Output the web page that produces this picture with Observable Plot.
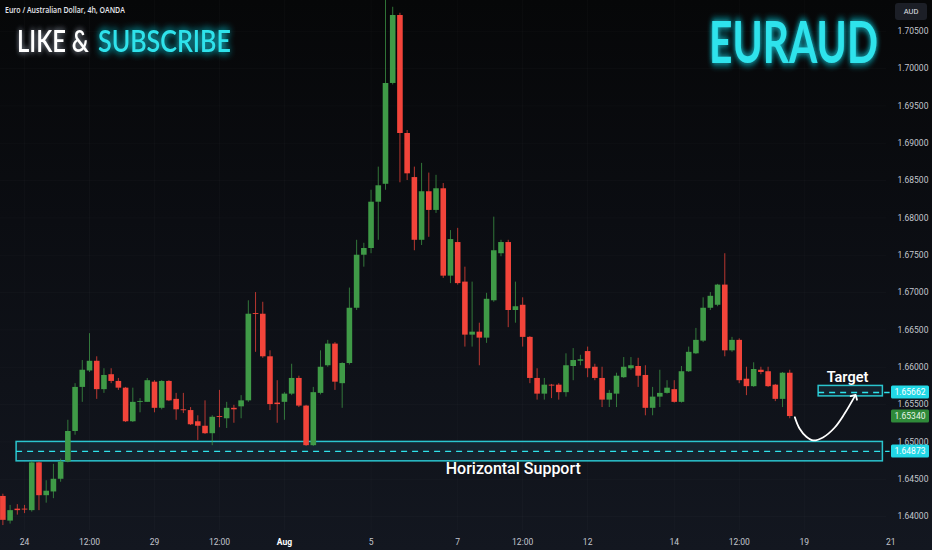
<!DOCTYPE html>
<html><head><meta charset="utf-8">
<script src="https://cdn.jsdelivr.net/npm/d3@7"></script>
<script src="https://cdn.jsdelivr.net/npm/@observablehq/plot@0.6"></script>
<style>
html,body{margin:0;padding:0;background:#0a0b0e;}
#wrap{position:relative;width:932px;height:550px;overflow:hidden;background:linear-gradient(180deg,#060708 0%,#0b0d12 40%,#131720 100%);}
</style></head><body><div id="wrap"></div>
<script>
// 4h candles (index 0 = three bars before Jul 24 open)
const open  = [1.6427,1.6394,1.6410,1.6410,1.6408,1.6472,1.6428,1.6433,1.6450,1.6473,1.6514,1.6573,1.6595,1.6608,1.6570,1.6590,1.6581,1.6572,1.6527,1.6553,1.6553,1.6580,1.6545,1.6581,1.6557,1.6543,1.6542,1.6527,1.6521,1.6511,1.6534,1.6531,1.6545,1.6547,1.6555,1.6672,1.6671,1.6614,1.6552,1.6553,1.6564,1.6585,1.6548,1.6495,1.6565,1.6602,1.6631,1.6578,1.6605,1.6679,1.6750,1.6759,1.6821,1.6845,1.6980,1.7071,1.6913,1.6854,1.6770,1.6835,1.6810,1.6839,1.6722,1.6767,1.6714,1.6643,1.6647,1.6639,1.6689,1.6752,1.6767,1.6676,1.6683,1.6640,1.6585,1.6564,1.6576,1.6576,1.6566,1.6601,1.6608,1.6621,1.6600,1.6585,1.6556,1.6564,1.6586,1.6598,1.6601,1.6589,1.6545,1.6560,1.6565,1.6570,1.6553,1.6594,1.6618,1.6635,1.6679,1.6683,1.6710,1.6622,1.6636,1.6584,1.6574,1.6596,1.6594,1.6576,1.6557,1.6592];
const high  = [1.6430,1.6415,1.6416,1.6415,1.6474,1.6473,1.6448,1.6470,1.6477,1.6529,1.6578,1.6609,1.6645,1.6614,1.6598,1.6598,1.6585,1.6573,1.6572,1.6558,1.6585,1.6582,1.6582,1.6582,1.6565,1.6565,1.6546,1.6535,1.6555,1.6535,1.6569,1.6553,1.6549,1.6562,1.6689,1.6700,1.6687,1.6622,1.6582,1.6566,1.6604,1.6588,1.6549,1.6573,1.6622,1.6636,1.6633,1.6606,1.6706,1.6770,1.6766,1.6837,1.6868,1.7092,1.7082,1.7074,1.6917,1.6868,1.6873,1.6860,1.6857,1.6846,1.6783,1.6786,1.6734,1.6714,1.6659,1.6699,1.6801,1.6770,1.6770,1.6714,1.6693,1.6641,1.6598,1.6585,1.6577,1.6578,1.6618,1.6625,1.6616,1.6627,1.6604,1.6600,1.6569,1.6592,1.6613,1.6613,1.6612,1.6602,1.6573,1.6596,1.6582,1.6582,1.6601,1.6627,1.6652,1.6693,1.6700,1.6711,1.6752,1.6640,1.6638,1.6600,1.6606,1.6600,1.6600,1.6577,1.6593,1.6596];
const low   = [1.6388,1.6390,1.6402,1.6404,1.6406,1.6408,1.6418,1.6424,1.6446,1.6472,1.6509,1.6553,1.6593,1.6557,1.6565,1.6578,1.6569,1.6526,1.6526,1.6539,1.6553,1.6539,1.6543,1.6554,1.6529,1.6538,1.6522,1.6502,1.6510,1.6495,1.6519,1.6518,1.6525,1.6531,1.6553,1.6620,1.6612,1.6542,1.6525,1.6529,1.6562,1.6546,1.6494,1.6494,1.6563,1.6600,1.6569,1.6545,1.6603,1.6676,1.6734,1.6752,1.6770,1.6837,1.6978,1.6847,1.6850,1.6756,1.6763,1.6774,1.6806,1.6719,1.6712,1.6710,1.6627,1.6627,1.6602,1.6632,1.6687,1.6748,1.6653,1.6659,1.6627,1.6578,1.6556,1.6556,1.6558,1.6556,1.6560,1.6582,1.6602,1.6586,1.6582,1.6546,1.6546,1.6546,1.6585,1.6596,1.6573,1.6535,1.6535,1.6546,1.6564,1.6552,1.6552,1.6593,1.6617,1.6633,1.6676,1.6681,1.6614,1.6620,1.6578,1.6562,1.6573,1.6590,1.6573,1.6554,1.6546,1.6531];
const close = [1.6395,1.6408,1.6408,1.6409,1.6472,1.6428,1.6434,1.6450,1.6473,1.6514,1.6573,1.6596,1.6608,1.6570,1.6589,1.6581,1.6572,1.6527,1.6553,1.6554,1.6582,1.6545,1.6581,1.6555,1.6543,1.6542,1.6523,1.6521,1.6511,1.6533,1.6533,1.6545,1.6543,1.6555,1.6671,1.6671,1.6614,1.6550,1.6550,1.6564,1.6585,1.6548,1.6495,1.6566,1.6600,1.6631,1.6580,1.6605,1.6679,1.6750,1.6759,1.6821,1.6843,1.6980,1.7071,1.6913,1.6859,1.6770,1.6835,1.6810,1.6839,1.6722,1.6771,1.6712,1.6643,1.6647,1.6639,1.6691,1.6756,1.6767,1.6676,1.6681,1.6640,1.6585,1.6564,1.6576,1.6575,1.6566,1.6602,1.6609,1.6610,1.6598,1.6585,1.6556,1.6565,1.6588,1.6600,1.6602,1.6588,1.6545,1.6560,1.6565,1.6572,1.6553,1.6594,1.6620,1.6636,1.6679,1.6695,1.6710,1.6622,1.6636,1.6582,1.6574,1.6597,1.6593,1.6574,1.6557,1.6592,1.6534];

// time axis
const timeTickIndex = [3,12,21,30,39,51,63,72,81,93,102,111,123];
const timeTickLabel = ["24","12:00","29","12:00","Aug","5","7","12:00","12","14","12:00","19","21"];
// price axis
const priceTicks = [1.640,1.645,1.650,1.655,1.660,1.665,1.670,1.675,1.680,1.685,1.690,1.695,1.700,1.705];

// annotation levels
const supportLevel = 1.64873, supportZone = [1.6474, 1.6500];
const targetLevel = 1.65662, targetZone = [1.6561, 1.6575];
const lastPrice = 1.65340;
const arrowX = [109.7,110.35,111.3,112.25,113.6,115.2,116.6,118.0];
const arrowY = [1.6533,1.6518,1.6507,1.6502,1.6506,1.6519,1.6538,1.6561];

const UP = "#3f9a47", DOWN = "#f2443a", CYAN = "#2fe3ec";

const candles = open.map((o,i)=>({i, o, h: high[i], l: low[i], c: close[i], up: close[i] >= o}));
const arrowPts = arrowX.map((x,j)=>({x, y: arrowY[j]}));

const chart = Plot.plot({
  width: 932, height: 550,
  marginLeft: 0, marginRight: 46, marginTop: 0, marginBottom: 20,
  style: {background: "transparent", color: "#c3c6ce", fontFamily: "Roboto, 'Liberation Sans', sans-serif", overflow: "visible"},
  x: {domain: [-0.33, 122.4], axis: null},
  y: {domain: [1.63814, 1.70911], axis: null},
  marks: [
    Plot.gridY(priceTicks, {stroke: "#ffffff", strokeOpacity: 0.025}),
    Plot.gridX(timeTickIndex.filter(t => t < 122), {stroke: "#ffffff", strokeOpacity: 0.025}),
    Plot.axisY(priceTicks, {anchor: "right", tickSize: 0, tickPadding: 11, tickFormat: d => d.toFixed(5), fontSize: 8.5, fill: "#c3c6ce"}),
    Plot.axisX(timeTickIndex, {anchor: "bottom", tickSize: 0, tickPadding: 8, tickFormat: (d) => timeTickLabel[timeTickIndex.indexOf(d)], fontSize: 8.5, fill: "#c3c6ce"}),
    // support zone
    Plot.rect([supportZone], {x1: 1.9, x2: 121.9, y1: d => d[0], y2: d => d[1], fill: "#1a3140", fillOpacity: 0.55, stroke: CYAN, strokeWidth: 1.5, strokeOpacity: 0.85}),
    Plot.ruleY([supportLevel], {x1: 1.9, x2: 122.9, stroke: CYAN, strokeWidth: 1.3, strokeDasharray: "6,5"}),
    // target zone
    Plot.rect([targetZone], {x1: 113.0, x2: 121.9, y1: d => d[0], y2: d => d[1], fill: "#1a3140", fillOpacity: 0.55, stroke: CYAN, strokeWidth: 1.5, strokeOpacity: 0.85}),
    Plot.ruleY([targetLevel], {x1: 113.0, x2: 122.9, stroke: CYAN, strokeWidth: 1.3, strokeDasharray: "6,5"}),
    // candles
    Plot.ruleX(candles, {x: "i", y1: "l", y2: "h", stroke: d => d.up ? UP : DOWN, strokeWidth: 1, strokeOpacity: 0.75, clip: true}),
    Plot.ruleX(candles, {x: "i", y1: "o", y2: d => Math.abs(d.c - d.o) < 0.00012 ? d.o + (d.up ? 0.00012 : -0.00012) : d.c, stroke: d => d.up ? UP : DOWN, strokeWidth: 5.6, clip: true}),
    // arrow
    Plot.line(arrowPts, {x: "x", y: "y", curve: "catmull-rom", stroke: "#ffffff", strokeWidth: 1.8, markerEnd: "arrow"}),
    Plot.text(["Target"], {x: 117.0, y: 1.6586, text: d => d, fill: "#ffffff", fontSize: 14.5, fontWeight: 600}),
    Plot.text(["Horizontal Support"], {x: 70.7, y: 1.6464, text: d => d, fill: "#ffffff", fontSize: 16, fontWeight: 500})
  ]
});

d3.select("#wrap").append(() => chart);
const svg = d3.select(chart);
const ys = chart.scale("y");

// bold month label
svg.selectAll("text").filter(function(){ return this.textContent === "Aug"; }).attr("font-weight", 700).attr("fill", "#ffffff");

// glow filters
const defs = svg.append("defs");
function glow(id, color, dev, op){
  const f = defs.append("filter").attr("id", id).attr("x", "-30%").attr("y", "-60%").attr("width", "160%").attr("height", "220%");
  f.append("feGaussianBlur").attr("in", "SourceAlpha").attr("stdDeviation", dev).attr("result", "b");
  f.append("feFlood").attr("flood-color", color).attr("flood-opacity", op);
  f.append("feComposite").attr("in2", "b").attr("operator", "in").attr("result", "g");
  const m = f.append("feMerge");
  m.append("feMergeNode").attr("in", "g");
  m.append("feMergeNode").attr("in", "g");
  m.append("feMergeNode").attr("in", "SourceGraphic");
}
glow("glowC", "#19c8d8", 4, 0.7);
glow("glowW", "#8c95a3", 3, 0.6);

// price labels on the scale
function priceTag(v, bg, fg){
  const y = ys.apply(v);
  svg.append("rect").attr("x", 891).attr("y", y - 6.5).attr("width", 38).attr("height", 13).attr("rx", 1.5).attr("fill", bg);
  svg.append("text").attr("x", 910).attr("y", y).attr("dy", "0.35em").attr("text-anchor", "middle")
    .attr("font-size", 8.5).attr("font-family", "Roboto, sans-serif").attr("fill", fg).text(v.toFixed(5));
}
priceTag(targetLevel, "#22d8e6", "#ffffff");
priceTag(lastPrice, "#2f8a3a", "#e8f5e9");
priceTag(supportLevel, "#22d8e6", "#ffffff");

// header texts: condensed by a horizontal scale so the box matches the drawn width
function label(x, y, size, weight, family, fill, txt, len, filter){
  const g = svg.append("g");
  const t = g.append("text").attr("x", 0).attr("y", 0).attr("text-anchor", "start")
    .attr("font-size", size).attr("font-weight", weight).attr("font-family", family).attr("fill", fill).text(txt);
  if (filter) t.attr("filter", filter);
  const w = t.node().getComputedTextLength() || len;
  g.attr("transform", `translate(${x},${y}) scale(${len / w},1)`);
  return t;
}
label(5, 13, 8, 600, "'Open Sans', sans-serif", "#e6e8ee", "Euro / Australian Dollar, 4h, OANDA", 120);
label(17, 52, 31, 600, "Lato, 'Open Sans', sans-serif", "#ffffff", "LIKE &", 72, "url(#glowW)");
label(98, 52, 31, 600, "Lato, 'Open Sans', sans-serif", CYAN, "SUBSCRIBE", 133, "url(#glowC)");
label(709, 63, 57, 700, "Lato, 'Open Sans', sans-serif", CYAN, "EURAUD", 169, "url(#glowC)");
svg.append("rect").attr("x", 895).attr("y", 3).attr("width", 32).attr("height", 17).attr("rx", 3).attr("fill", "#1c1f27");
svg.append("text").attr("x", 911).attr("y", 11.5).attr("dy", "0.35em").attr("text-anchor", "middle").attr("font-size", 7.5)
  .attr("font-family", "Roboto, sans-serif").attr("fill", "#e0e3eb").text("AUD");
</script></body></html>
